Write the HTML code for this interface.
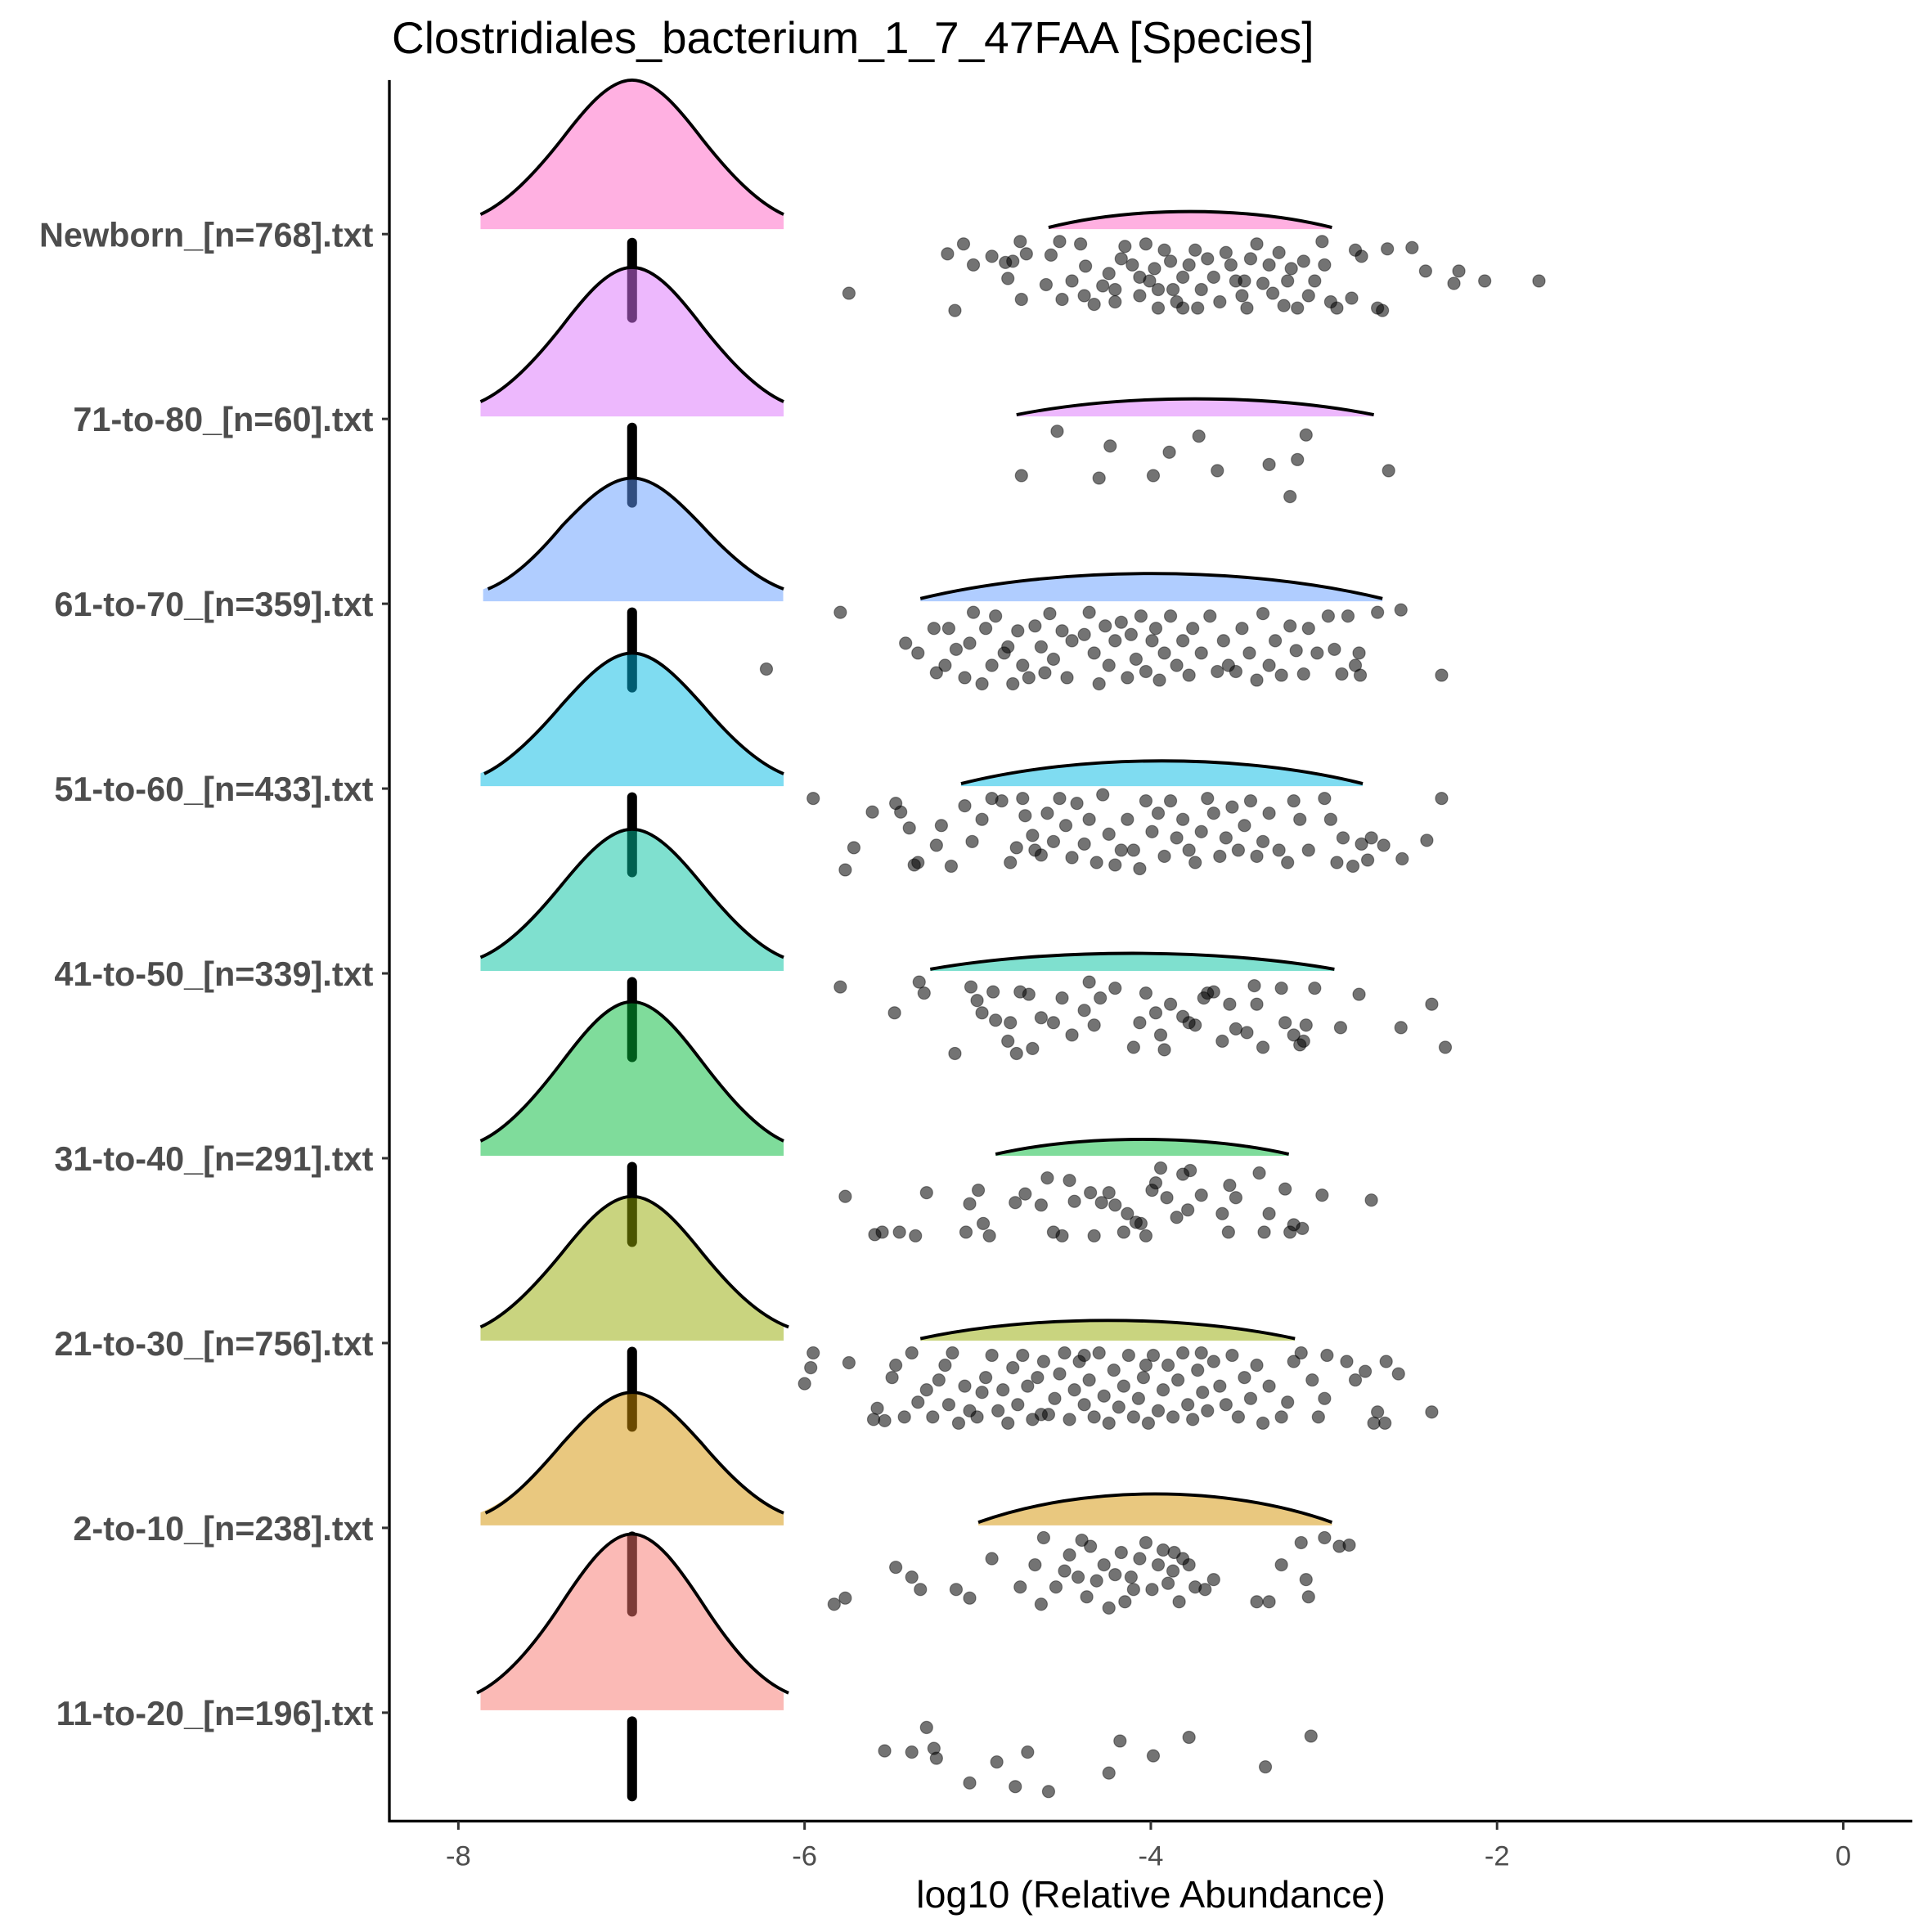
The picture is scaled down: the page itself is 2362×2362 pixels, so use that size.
<!DOCTYPE html>
<html><head><meta charset="utf-8"><style>html,body{margin:0;padding:0;background:#fff}svg{display:block}</style></head><body>
<svg xmlns="http://www.w3.org/2000/svg" width="2362" height="2362" viewBox="0 0 1568 1568">
<defs>
<path id="gf" d="M390,0 L390,-0.097 C412,-0.178 434,-0.373 456,-0.607 C475,-0.809 494,-1 513,-1 C532,-1 551,-0.809 570,-0.607 C592,-0.373 614,-0.178 636,-0.097 L636,0 Z"/>
<path id="ff" d="M0,-0.1 C0.3,-1.33 0.7,-1.33 1,-0.1 L1,0 L0,0 Z"/>
</defs>
<rect width="1568" height="1568" fill="#fff"/>
<g stroke="#000" stroke-width="8" stroke-linecap="round">
<line x1="513" y1="197" x2="513" y2="258"/><line x1="513" y1="347" x2="513" y2="408"/><line x1="513" y1="497" x2="513" y2="558"/><line x1="513" y1="647" x2="513" y2="708"/><line x1="513" y1="797" x2="513" y2="858"/><line x1="513" y1="947" x2="513" y2="1008"/><line x1="513" y1="1097" x2="513" y2="1158"/><line x1="513" y1="1247" x2="513" y2="1308"/><line x1="513" y1="1397" x2="513" y2="1458"/>
</g>
<g fill-opacity="0.5">
<use href="#gf" transform="translate(0,186) scale(1,121)" fill="#FF61C3"/>
<use href="#gf" transform="translate(0,338) scale(1,121)" fill="#DB72FB"/>
<use href="#gf" transform="translate(6,488) scale(0.99,100)" fill="#619CFF"/>
<use href="#gf" transform="translate(0,638) scale(1,108)" fill="#00B9E3"/>
<use href="#gf" transform="translate(0,788) scale(1,115)" fill="#00C19F"/>
<use href="#gf" transform="translate(0,938) scale(1,125)" fill="#00BA38"/>
<use href="#gf" transform="translate(0,1088) scale(1,117)" fill="#93AA00"/>
<use href="#gf" transform="translate(0,1238) scale(1,108)" fill="#D39200"/>
<use href="#gf" transform="translate(0,1388) scale(1,143)" fill="#F8766D"/>
<use href="#ff" transform="translate(851,186) scale(230,14)" fill="#FF61C3"/>
<use href="#ff" transform="translate(825,338) scale(290,14)" fill="#DB72FB"/>
<use href="#ff" transform="translate(747,488) scale(375,22)" fill="#619CFF"/>
<use href="#ff" transform="translate(780,638) scale(326,20)" fill="#00B9E3"/>
<use href="#ff" transform="translate(755,788) scale(328,14)" fill="#00C19F"/>
<use href="#ff" transform="translate(808,938) scale(238,13)" fill="#00BA38"/>
<use href="#ff" transform="translate(747,1088) scale(304,16)" fill="#93AA00"/>
<use href="#ff" transform="translate(794,1238) scale(287,25)" fill="#D39200"/>
</g>
<g fill="none" stroke="#000" stroke-width="2.6">
<path d="M390,174 C412,164 434,141 456,113 C475,88 494,65 513,65 C532,65 551,88 570,113 C592,141 614,164 636,174"/>
<path d="M390,326 C412,316 434,293 456,265 C475,240 494,217 513,217 C532,217 551,240 570,265 C592,293 614,316 636,326"/>
<path d="M396,478 C416,470 436,451 456,427 C475,407 494,388 513,388 C532,388 551,407 570,427 C592,451 614,470 636,478"/>
<path d="M393,628 C412,619 434,598 456,572 C475,551 494,530 513,530 C532,530 551,551 570,572 C592,598 614,619 636,628"/>
<path d="M390,777 C412,768 434,745 456,718 C475,695 494,673 513,673 C532,673 551,695 570,718 C592,745 614,768 636,777"/>
<path d="M390,926 C412,916 434,891 456,862 C475,837 494,813 513,813 C532,813 551,837 570,862 C592,891 614,916 636,926"/>
<path d="M390,1077 C412,1067 434,1044 456,1017 C475,993 494,971 513,971 C532,971 551,993 570,1017 C592,1044 614,1067 640,1077"/>
<path d="M394,1228 C414,1219 434,1198 456,1172 C475,1151 494,1130 513,1130 C532,1130 551,1151 570,1172 C592,1198 614,1219 636,1228"/>
<path d="M387,1374 C410,1363 434,1335 456,1301 C475,1272 494,1245 513,1245 C532,1245 551,1272 570,1301 C592,1335 614,1363 640,1374"/>
<path d="M851,184.6 C920,167.4 1012,167.4 1081,184.6"/>
<path d="M825,336.6 C912,319.4 1028,319.4 1115,336.6"/>
<path d="M747,485.8 C860,458.7 1010,458.7 1122,485.8"/>
<path d="M780,636 C878,611.4 1008,611.4 1106,636"/>
<path d="M755,786.6 C853,769.4 985,769.4 1083,786.6"/>
<path d="M808,936.7 C879,920.7 975,920.7 1046,936.7"/>
<path d="M747,1086.4 C838,1066.7 960,1066.7 1051,1086.4"/>
<path d="M794,1235.5 C880,1204.8 995,1204.8 1081,1235.5"/>
</g>
<g fill="#000" fill-opacity="0.55" stroke="#000" stroke-opacity="0.4" stroke-width="0.8">
<circle cx="689" cy="238" r="5"/><circle cx="775" cy="252" r="5"/><circle cx="782" cy="198" r="5"/><circle cx="769" cy="206" r="5"/><circle cx="790" cy="215" r="5"/><circle cx="805" cy="208" r="5"/><circle cx="816" cy="213" r="5"/><circle cx="828" cy="196" r="5"/><circle cx="822" cy="212" r="5"/><circle cx="833" cy="206" r="5"/><circle cx="829" cy="243" r="5"/><circle cx="853" cy="207" r="5"/><circle cx="860" cy="196" r="5"/><circle cx="818" cy="226" r="5"/><circle cx="849" cy="231" r="5"/><circle cx="862" cy="243" r="5"/><circle cx="870" cy="228" r="5"/><circle cx="877" cy="198" r="5"/><circle cx="881" cy="216" r="5"/><circle cx="888" cy="247" r="5"/><circle cx="895" cy="232" r="5"/><circle cx="900" cy="222" r="5"/><circle cx="905" cy="235" r="5"/><circle cx="910" cy="210" r="5"/><circle cx="913" cy="200" r="5"/><circle cx="919" cy="215" r="5"/><circle cx="925" cy="240" r="5"/><circle cx="930" cy="198" r="5"/><circle cx="933" cy="228" r="5"/><circle cx="937" cy="218" r="5"/><circle cx="940" cy="250" r="5"/><circle cx="945" cy="203" r="5"/><circle cx="950" cy="212" r="5"/><circle cx="952" cy="235" r="5"/><circle cx="955" cy="245" r="5"/><circle cx="960" cy="225" r="5"/><circle cx="965" cy="215" r="5"/><circle cx="970" cy="203" r="5"/><circle cx="972" cy="250" r="5"/><circle cx="975" cy="235" r="5"/><circle cx="980" cy="210" r="5"/><circle cx="985" cy="225" r="5"/><circle cx="990" cy="245" r="5"/><circle cx="995" cy="205" r="5"/><circle cx="999" cy="215" r="5"/><circle cx="1003" cy="228" r="5"/><circle cx="1008" cy="240" r="5"/><circle cx="1012" cy="250" r="5"/><circle cx="1015" cy="210" r="5"/><circle cx="1020" cy="198" r="5"/><circle cx="1025" cy="230" r="5"/><circle cx="1030" cy="215" r="5"/><circle cx="1033" cy="238" r="5"/><circle cx="1038" cy="205" r="5"/><circle cx="1042" cy="248" r="5"/><circle cx="1045" cy="228" r="5"/><circle cx="1048" cy="218" r="5"/><circle cx="1053" cy="250" r="5"/><circle cx="1058" cy="212" r="5"/><circle cx="1062" cy="240" r="5"/><circle cx="1067" cy="228" r="5"/><circle cx="1073" cy="196" r="5"/><circle cx="1080" cy="245" r="5"/><circle cx="1085" cy="250" r="5"/><circle cx="1097" cy="242" r="5"/><circle cx="1100" cy="203" r="5"/><circle cx="1105" cy="208" r="5"/><circle cx="1118" cy="250" r="5"/><circle cx="1122" cy="252" r="5"/><circle cx="1126" cy="202" r="5"/><circle cx="1146" cy="201" r="5"/><circle cx="1157" cy="220" r="5"/><circle cx="1184" cy="220" r="5"/><circle cx="1180" cy="230" r="5"/><circle cx="1205" cy="228" r="5"/><circle cx="1249" cy="228" r="5"/><circle cx="1075" cy="215" r="5"/><circle cx="940" cy="235" r="5"/><circle cx="925" cy="225" r="5"/><circle cx="905" cy="245" r="5"/><circle cx="880" cy="240" r="5"/><circle cx="960" cy="250" r="5"/><circle cx="1010" cy="228" r="5"/>
<circle cx="858" cy="350" r="5"/><circle cx="901" cy="362" r="5"/><circle cx="973" cy="354" r="5"/><circle cx="1060" cy="353" r="5"/><circle cx="949" cy="367" r="5"/><circle cx="829" cy="386" r="5"/><circle cx="892" cy="388" r="5"/><circle cx="936" cy="386" r="5"/><circle cx="988" cy="382" r="5"/><circle cx="1030" cy="377" r="5"/><circle cx="1053" cy="373" r="5"/><circle cx="1127" cy="382" r="5"/><circle cx="1047" cy="403" r="5"/>
<circle cx="682" cy="497" r="5"/><circle cx="622" cy="543" r="5"/><circle cx="735" cy="522" r="5"/><circle cx="745" cy="530" r="5"/><circle cx="758" cy="510" r="5"/><circle cx="760" cy="546" r="5"/><circle cx="767" cy="540" r="5"/><circle cx="770" cy="510" r="5"/><circle cx="776" cy="527" r="5"/><circle cx="783" cy="550" r="5"/><circle cx="787" cy="522" r="5"/><circle cx="790" cy="497" r="5"/><circle cx="797" cy="555" r="5"/><circle cx="800" cy="510" r="5"/><circle cx="805" cy="540" r="5"/><circle cx="808" cy="500" r="5"/><circle cx="815" cy="530" r="5"/><circle cx="818" cy="525" r="5"/><circle cx="822" cy="555" r="5"/><circle cx="826" cy="512" r="5"/><circle cx="830" cy="540" r="5"/><circle cx="835" cy="550" r="5"/><circle cx="840" cy="508" r="5"/><circle cx="845" cy="525" r="5"/><circle cx="848" cy="546" r="5"/><circle cx="852" cy="498" r="5"/><circle cx="855" cy="535" r="5"/><circle cx="862" cy="512" r="5"/><circle cx="866" cy="550" r="5"/><circle cx="870" cy="520" r="5"/><circle cx="880" cy="515" r="5"/><circle cx="884" cy="497" r="5"/><circle cx="888" cy="530" r="5"/><circle cx="892" cy="555" r="5"/><circle cx="897" cy="508" r="5"/><circle cx="900" cy="540" r="5"/><circle cx="905" cy="520" r="5"/><circle cx="910" cy="505" r="5"/><circle cx="915" cy="550" r="5"/><circle cx="918" cy="515" r="5"/><circle cx="922" cy="535" r="5"/><circle cx="926" cy="500" r="5"/><circle cx="930" cy="545" r="5"/><circle cx="935" cy="520" r="5"/><circle cx="938" cy="510" r="5"/><circle cx="941" cy="552" r="5"/><circle cx="945" cy="530" r="5"/><circle cx="950" cy="500" r="5"/><circle cx="955" cy="540" r="5"/><circle cx="960" cy="520" r="5"/><circle cx="965" cy="548" r="5"/><circle cx="968" cy="510" r="5"/><circle cx="975" cy="530" r="5"/><circle cx="982" cy="500" r="5"/><circle cx="988" cy="545" r="5"/><circle cx="993" cy="520" r="5"/><circle cx="997" cy="540" r="5"/><circle cx="1003" cy="545" r="5"/><circle cx="1008" cy="510" r="5"/><circle cx="1014" cy="530" r="5"/><circle cx="1020" cy="552" r="5"/><circle cx="1025" cy="498" r="5"/><circle cx="1030" cy="540" r="5"/><circle cx="1035" cy="520" r="5"/><circle cx="1040" cy="548" r="5"/><circle cx="1047" cy="508" r="5"/><circle cx="1052" cy="528" r="5"/><circle cx="1058" cy="547" r="5"/><circle cx="1062" cy="510" r="5"/><circle cx="1069" cy="530" r="5"/><circle cx="1078" cy="500" r="5"/><circle cx="1083" cy="527" r="5"/><circle cx="1089" cy="547" r="5"/><circle cx="1094" cy="500" r="5"/><circle cx="1100" cy="540" r="5"/><circle cx="1103" cy="530" r="5"/><circle cx="1118" cy="497" r="5"/><circle cx="1137" cy="495" r="5"/><circle cx="1170" cy="548" r="5"/><circle cx="1104" cy="548" r="5"/>
<circle cx="660" cy="648" r="5"/><circle cx="686" cy="706" r="5"/><circle cx="693" cy="688" r="5"/><circle cx="708" cy="659" r="5"/><circle cx="727" cy="652" r="5"/><circle cx="731" cy="659" r="5"/><circle cx="738" cy="672" r="5"/><circle cx="742" cy="702" r="5"/><circle cx="745" cy="700" r="5"/><circle cx="760" cy="686" r="5"/><circle cx="764" cy="670" r="5"/><circle cx="772" cy="703" r="5"/><circle cx="783" cy="654" r="5"/><circle cx="789" cy="683" r="5"/><circle cx="797" cy="665" r="5"/><circle cx="805" cy="648" r="5"/><circle cx="813" cy="650" r="5"/><circle cx="820" cy="700" r="5"/><circle cx="825" cy="688" r="5"/><circle cx="830" cy="648" r="5"/><circle cx="832" cy="662" r="5"/><circle cx="838" cy="678" r="5"/><circle cx="845" cy="694" r="5"/><circle cx="850" cy="660" r="5"/><circle cx="855" cy="683" r="5"/><circle cx="860" cy="648" r="5"/><circle cx="865" cy="670" r="5"/><circle cx="870" cy="696" r="5"/><circle cx="874" cy="652" r="5"/><circle cx="880" cy="685" r="5"/><circle cx="884" cy="665" r="5"/><circle cx="890" cy="700" r="5"/><circle cx="895" cy="645" r="5"/><circle cx="900" cy="677" r="5"/><circle cx="905" cy="702" r="5"/><circle cx="910" cy="690" r="5"/><circle cx="915" cy="665" r="5"/><circle cx="920" cy="690" r="5"/><circle cx="925" cy="705" r="5"/><circle cx="930" cy="650" r="5"/><circle cx="935" cy="675" r="5"/><circle cx="940" cy="660" r="5"/><circle cx="945" cy="695" r="5"/><circle cx="950" cy="650" r="5"/><circle cx="955" cy="680" r="5"/><circle cx="960" cy="665" r="5"/><circle cx="965" cy="690" r="5"/><circle cx="970" cy="700" r="5"/><circle cx="975" cy="675" r="5"/><circle cx="980" cy="648" r="5"/><circle cx="985" cy="660" r="5"/><circle cx="990" cy="695" r="5"/><circle cx="995" cy="680" r="5"/><circle cx="1000" cy="655" r="5"/><circle cx="1005" cy="690" r="5"/><circle cx="1010" cy="670" r="5"/><circle cx="1015" cy="650" r="5"/><circle cx="1020" cy="695" r="5"/><circle cx="1025" cy="683" r="5"/><circle cx="1030" cy="660" r="5"/><circle cx="1038" cy="690" r="5"/><circle cx="1045" cy="700" r="5"/><circle cx="1050" cy="650" r="5"/><circle cx="1055" cy="665" r="5"/><circle cx="1062" cy="690" r="5"/><circle cx="1075" cy="648" r="5"/><circle cx="1080" cy="665" r="5"/><circle cx="1085" cy="700" r="5"/><circle cx="1090" cy="680" r="5"/><circle cx="1098" cy="703" r="5"/><circle cx="1105" cy="685" r="5"/><circle cx="1113" cy="680" r="5"/><circle cx="1123" cy="686" r="5"/><circle cx="1138" cy="697" r="5"/><circle cx="1158" cy="682" r="5"/><circle cx="1170" cy="648" r="5"/><circle cx="1110" cy="698" r="5"/><circle cx="840" cy="690" r="5"/>
<circle cx="682" cy="801" r="5"/><circle cx="726" cy="822" r="5"/><circle cx="746" cy="797" r="5"/><circle cx="750" cy="806" r="5"/><circle cx="775" cy="855" r="5"/><circle cx="788" cy="801" r="5"/><circle cx="793" cy="812" r="5"/><circle cx="797" cy="822" r="5"/><circle cx="806" cy="805" r="5"/><circle cx="808" cy="828" r="5"/><circle cx="818" cy="845" r="5"/><circle cx="820" cy="830" r="5"/><circle cx="825" cy="855" r="5"/><circle cx="828" cy="805" r="5"/><circle cx="835" cy="807" r="5"/><circle cx="838" cy="851" r="5"/><circle cx="845" cy="826" r="5"/><circle cx="855" cy="830" r="5"/><circle cx="862" cy="810" r="5"/><circle cx="870" cy="840" r="5"/><circle cx="880" cy="820" r="5"/><circle cx="884" cy="797" r="5"/><circle cx="888" cy="832" r="5"/><circle cx="893" cy="810" r="5"/><circle cx="905" cy="802" r="5"/><circle cx="920" cy="850" r="5"/><circle cx="925" cy="830" r="5"/><circle cx="930" cy="806" r="5"/><circle cx="938" cy="822" r="5"/><circle cx="942" cy="840" r="5"/><circle cx="945" cy="852" r="5"/><circle cx="950" cy="815" r="5"/><circle cx="960" cy="825" r="5"/><circle cx="965" cy="830" r="5"/><circle cx="970" cy="832" r="5"/><circle cx="977" cy="810" r="5"/><circle cx="980" cy="806" r="5"/><circle cx="985" cy="805" r="5"/><circle cx="992" cy="845" r="5"/><circle cx="998" cy="815" r="5"/><circle cx="1003" cy="835" r="5"/><circle cx="1012" cy="838" r="5"/><circle cx="1018" cy="800" r="5"/><circle cx="1020" cy="815" r="5"/><circle cx="1025" cy="850" r="5"/><circle cx="1040" cy="802" r="5"/><circle cx="1043" cy="830" r="5"/><circle cx="1050" cy="840" r="5"/><circle cx="1055" cy="848" r="5"/><circle cx="1060" cy="832" r="5"/><circle cx="1067" cy="802" r="5"/><circle cx="1088" cy="834" r="5"/><circle cx="1103" cy="807" r="5"/><circle cx="1137" cy="834" r="5"/><circle cx="1162" cy="815" r="5"/><circle cx="1173" cy="850" r="5"/><circle cx="1058" cy="845" r="5"/>
<circle cx="686" cy="971" r="5"/><circle cx="710" cy="1002" r="5"/><circle cx="716" cy="1000" r="5"/><circle cx="730" cy="1000" r="5"/><circle cx="743" cy="1003" r="5"/><circle cx="752" cy="968" r="5"/><circle cx="784" cy="1000" r="5"/><circle cx="787" cy="977" r="5"/><circle cx="794" cy="966" r="5"/><circle cx="798" cy="993" r="5"/><circle cx="803" cy="1003" r="5"/><circle cx="824" cy="976" r="5"/><circle cx="832" cy="969" r="5"/><circle cx="845" cy="978" r="5"/><circle cx="850" cy="956" r="5"/><circle cx="855" cy="1000" r="5"/><circle cx="862" cy="1003" r="5"/><circle cx="868" cy="958" r="5"/><circle cx="872" cy="975" r="5"/><circle cx="885" cy="968" r="5"/><circle cx="888" cy="1003" r="5"/><circle cx="894" cy="976" r="5"/><circle cx="900" cy="968" r="5"/><circle cx="905" cy="978" r="5"/><circle cx="912" cy="1000" r="5"/><circle cx="915" cy="985" r="5"/><circle cx="922" cy="992" r="5"/><circle cx="926" cy="993" r="5"/><circle cx="930" cy="1003" r="5"/><circle cx="935" cy="966" r="5"/><circle cx="938" cy="960" r="5"/><circle cx="942" cy="948" r="5"/><circle cx="947" cy="972" r="5"/><circle cx="955" cy="988" r="5"/><circle cx="960" cy="953" r="5"/><circle cx="964" cy="982" r="5"/><circle cx="966" cy="950" r="5"/><circle cx="975" cy="970" r="5"/><circle cx="992" cy="985" r="5"/><circle cx="997" cy="1000" r="5"/><circle cx="998" cy="962" r="5"/><circle cx="1003" cy="972" r="5"/><circle cx="1022" cy="952" r="5"/><circle cx="1030" cy="985" r="5"/><circle cx="1043" cy="965" r="5"/><circle cx="1047" cy="1000" r="5"/><circle cx="1050" cy="994" r="5"/><circle cx="1057" cy="997" r="5"/><circle cx="1073" cy="970" r="5"/><circle cx="1113" cy="974" r="5"/><circle cx="1026" cy="1000" r="5"/>
<circle cx="653" cy="1123" r="5"/><circle cx="658" cy="1110" r="5"/><circle cx="660" cy="1098" r="5"/><circle cx="689" cy="1106" r="5"/><circle cx="709" cy="1152" r="5"/><circle cx="712" cy="1143" r="5"/><circle cx="718" cy="1153" r="5"/><circle cx="724" cy="1118" r="5"/><circle cx="727" cy="1108" r="5"/><circle cx="734" cy="1150" r="5"/><circle cx="740" cy="1098" r="5"/><circle cx="745" cy="1138" r="5"/><circle cx="752" cy="1128" r="5"/><circle cx="757" cy="1150" r="5"/><circle cx="762" cy="1120" r="5"/><circle cx="767" cy="1108" r="5"/><circle cx="770" cy="1140" r="5"/><circle cx="773" cy="1098" r="5"/><circle cx="778" cy="1155" r="5"/><circle cx="783" cy="1125" r="5"/><circle cx="787" cy="1145" r="5"/><circle cx="793" cy="1150" r="5"/><circle cx="797" cy="1130" r="5"/><circle cx="800" cy="1118" r="5"/><circle cx="805" cy="1100" r="5"/><circle cx="810" cy="1145" r="5"/><circle cx="814" cy="1128" r="5"/><circle cx="818" cy="1155" r="5"/><circle cx="822" cy="1110" r="5"/><circle cx="826" cy="1140" r="5"/><circle cx="830" cy="1100" r="5"/><circle cx="834" cy="1125" r="5"/><circle cx="838" cy="1152" r="5"/><circle cx="842" cy="1118" r="5"/><circle cx="847" cy="1105" r="5"/><circle cx="851" cy="1148" r="5"/><circle cx="856" cy="1135" r="5"/><circle cx="860" cy="1115" r="5"/><circle cx="864" cy="1098" r="5"/><circle cx="868" cy="1152" r="5"/><circle cx="872" cy="1128" r="5"/><circle cx="876" cy="1105" r="5"/><circle cx="880" cy="1140" r="5"/><circle cx="884" cy="1120" r="5"/><circle cx="888" cy="1150" r="5"/><circle cx="892" cy="1098" r="5"/><circle cx="896" cy="1133" r="5"/><circle cx="900" cy="1155" r="5"/><circle cx="904" cy="1112" r="5"/><circle cx="908" cy="1142" r="5"/><circle cx="912" cy="1125" r="5"/><circle cx="916" cy="1100" r="5"/><circle cx="920" cy="1150" r="5"/><circle cx="924" cy="1135" r="5"/><circle cx="928" cy="1118" r="5"/><circle cx="932" cy="1155" r="5"/><circle cx="936" cy="1100" r="5"/><circle cx="940" cy="1145" r="5"/><circle cx="944" cy="1128" r="5"/><circle cx="948" cy="1108" r="5"/><circle cx="952" cy="1150" r="5"/><circle cx="956" cy="1120" r="5"/><circle cx="960" cy="1098" r="5"/><circle cx="964" cy="1140" r="5"/><circle cx="968" cy="1152" r="5"/><circle cx="972" cy="1112" r="5"/><circle cx="976" cy="1130" r="5"/><circle cx="980" cy="1145" r="5"/><circle cx="985" cy="1105" r="5"/><circle cx="990" cy="1125" r="5"/><circle cx="995" cy="1140" r="5"/><circle cx="1000" cy="1100" r="5"/><circle cx="1005" cy="1150" r="5"/><circle cx="1010" cy="1118" r="5"/><circle cx="1015" cy="1135" r="5"/><circle cx="1020" cy="1108" r="5"/><circle cx="1025" cy="1155" r="5"/><circle cx="1030" cy="1125" r="5"/><circle cx="1040" cy="1150" r="5"/><circle cx="1045" cy="1138" r="5"/><circle cx="1050" cy="1105" r="5"/><circle cx="1056" cy="1098" r="5"/><circle cx="1065" cy="1120" r="5"/><circle cx="1070" cy="1150" r="5"/><circle cx="1075" cy="1135" r="5"/><circle cx="1077" cy="1100" r="5"/><circle cx="1093" cy="1105" r="5"/><circle cx="1100" cy="1120" r="5"/><circle cx="1108" cy="1113" r="5"/><circle cx="1115" cy="1155" r="5"/><circle cx="1118" cy="1146" r="5"/><circle cx="1124" cy="1155" r="5"/><circle cx="1125" cy="1105" r="5"/><circle cx="1135" cy="1115" r="5"/><circle cx="1162" cy="1146" r="5"/><circle cx="930" cy="1108" r="5"/><circle cx="880" cy="1100" r="5"/><circle cx="845" cy="1148" r="5"/><circle cx="975" cy="1098" r="5"/>
<circle cx="677" cy="1302" r="5"/><circle cx="686" cy="1297" r="5"/><circle cx="727" cy="1272" r="5"/><circle cx="740" cy="1280" r="5"/><circle cx="747" cy="1290" r="5"/><circle cx="776" cy="1290" r="5"/><circle cx="787" cy="1297" r="5"/><circle cx="805" cy="1265" r="5"/><circle cx="828" cy="1288" r="5"/><circle cx="840" cy="1270" r="5"/><circle cx="845" cy="1302" r="5"/><circle cx="847" cy="1248" r="5"/><circle cx="857" cy="1288" r="5"/><circle cx="864" cy="1275" r="5"/><circle cx="868" cy="1262" r="5"/><circle cx="875" cy="1280" r="5"/><circle cx="878" cy="1250" r="5"/><circle cx="882" cy="1296" r="5"/><circle cx="885" cy="1255" r="5"/><circle cx="890" cy="1283" r="5"/><circle cx="896" cy="1270" r="5"/><circle cx="900" cy="1305" r="5"/><circle cx="905" cy="1278" r="5"/><circle cx="910" cy="1260" r="5"/><circle cx="913" cy="1300" r="5"/><circle cx="918" cy="1280" r="5"/><circle cx="925" cy="1265" r="5"/><circle cx="930" cy="1252" r="5"/><circle cx="935" cy="1290" r="5"/><circle cx="940" cy="1270" r="5"/><circle cx="944" cy="1258" r="5"/><circle cx="948" cy="1285" r="5"/><circle cx="952" cy="1275" r="5"/><circle cx="957" cy="1300" r="5"/><circle cx="960" cy="1265" r="5"/><circle cx="965" cy="1270" r="5"/><circle cx="970" cy="1288" r="5"/><circle cx="978" cy="1290" r="5"/><circle cx="985" cy="1282" r="5"/><circle cx="1020" cy="1300" r="5"/><circle cx="1030" cy="1300" r="5"/><circle cx="1040" cy="1270" r="5"/><circle cx="1060" cy="1282" r="5"/><circle cx="1062" cy="1296" r="5"/><circle cx="1056" cy="1252" r="5"/><circle cx="1075" cy="1248" r="5"/><circle cx="1087" cy="1255" r="5"/><circle cx="1095" cy="1254" r="5"/><circle cx="920" cy="1290" r="5"/><circle cx="953" cy="1260" r="5"/>
<circle cx="752" cy="1402" r="5"/><circle cx="718" cy="1421" r="5"/><circle cx="740" cy="1422" r="5"/><circle cx="758" cy="1419" r="5"/><circle cx="760" cy="1427" r="5"/><circle cx="834" cy="1422" r="5"/><circle cx="809" cy="1430" r="5"/><circle cx="787" cy="1447" r="5"/><circle cx="824" cy="1450" r="5"/><circle cx="851" cy="1454" r="5"/><circle cx="900" cy="1439" r="5"/><circle cx="909" cy="1413" r="5"/><circle cx="936" cy="1425" r="5"/><circle cx="965" cy="1410" r="5"/><circle cx="1027" cy="1434" r="5"/><circle cx="1064" cy="1409" r="5"/>
</g>
<g stroke="#000" stroke-width="2.2" fill="none">
<line x1="316" y1="65" x2="316" y2="1479"/>
<line x1="315" y1="1478" x2="1552" y2="1478"/>
</g>
<g stroke="#333" stroke-width="2">
<line x1="310" y1="190" x2="316" y2="190"/><line x1="310" y1="340" x2="316" y2="340"/><line x1="310" y1="490" x2="316" y2="490"/><line x1="310" y1="640" x2="316" y2="640"/><line x1="310" y1="790" x2="316" y2="790"/><line x1="310" y1="940" x2="316" y2="940"/><line x1="310" y1="1090" x2="316" y2="1090"/><line x1="310" y1="1240" x2="316" y2="1240"/><line x1="310" y1="1390" x2="316" y2="1390"/>
<line x1="372" y1="1478" x2="372" y2="1485"/><line x1="653" y1="1478" x2="653" y2="1485"/><line x1="934" y1="1478" x2="934" y2="1485"/><line x1="1215" y1="1478" x2="1215" y2="1485"/><line x1="1496" y1="1478" x2="1496" y2="1485"/>
</g>
<g font-family="Liberation Sans, sans-serif" font-weight="bold" font-size="27.5" fill="#4d4d4d" text-anchor="end">
<text x="303" y="200">Newborn_[n=768].txt</text>
<text x="303" y="350">71-to-80_[n=60].txt</text>
<text x="303" y="500">61-to-70_[n=359].txt</text>
<text x="303" y="650">51-to-60_[n=433].txt</text>
<text x="303" y="800">41-to-50_[n=339].txt</text>
<text x="303" y="950">31-to-40_[n=291].txt</text>
<text x="303" y="1100">21-to-30_[n=756].txt</text>
<text x="303" y="1250">2-to-10_[n=238].txt</text>
<text x="303" y="1400">11-to-20_[n=196].txt</text>
</g>
<g font-family="Liberation Sans, sans-serif" font-size="23" fill="#4d4d4d" text-anchor="middle">
<text x="372" y="1514">-8</text><text x="653" y="1514">-6</text><text x="934" y="1514">-4</text><text x="1215" y="1514">-2</text><text x="1496" y="1514">0</text>
</g>
<text x="934" y="1548" font-family="Liberation Sans, sans-serif" font-size="31" fill="#000" text-anchor="middle">log10 (Relative Abundance)</text>
<text x="318" y="43" font-family="Liberation Sans, sans-serif" font-size="36.5" fill="#000">Clostridiales_bacterium_1_7_47FAA [Species]</text>
</svg>
</body></html>
